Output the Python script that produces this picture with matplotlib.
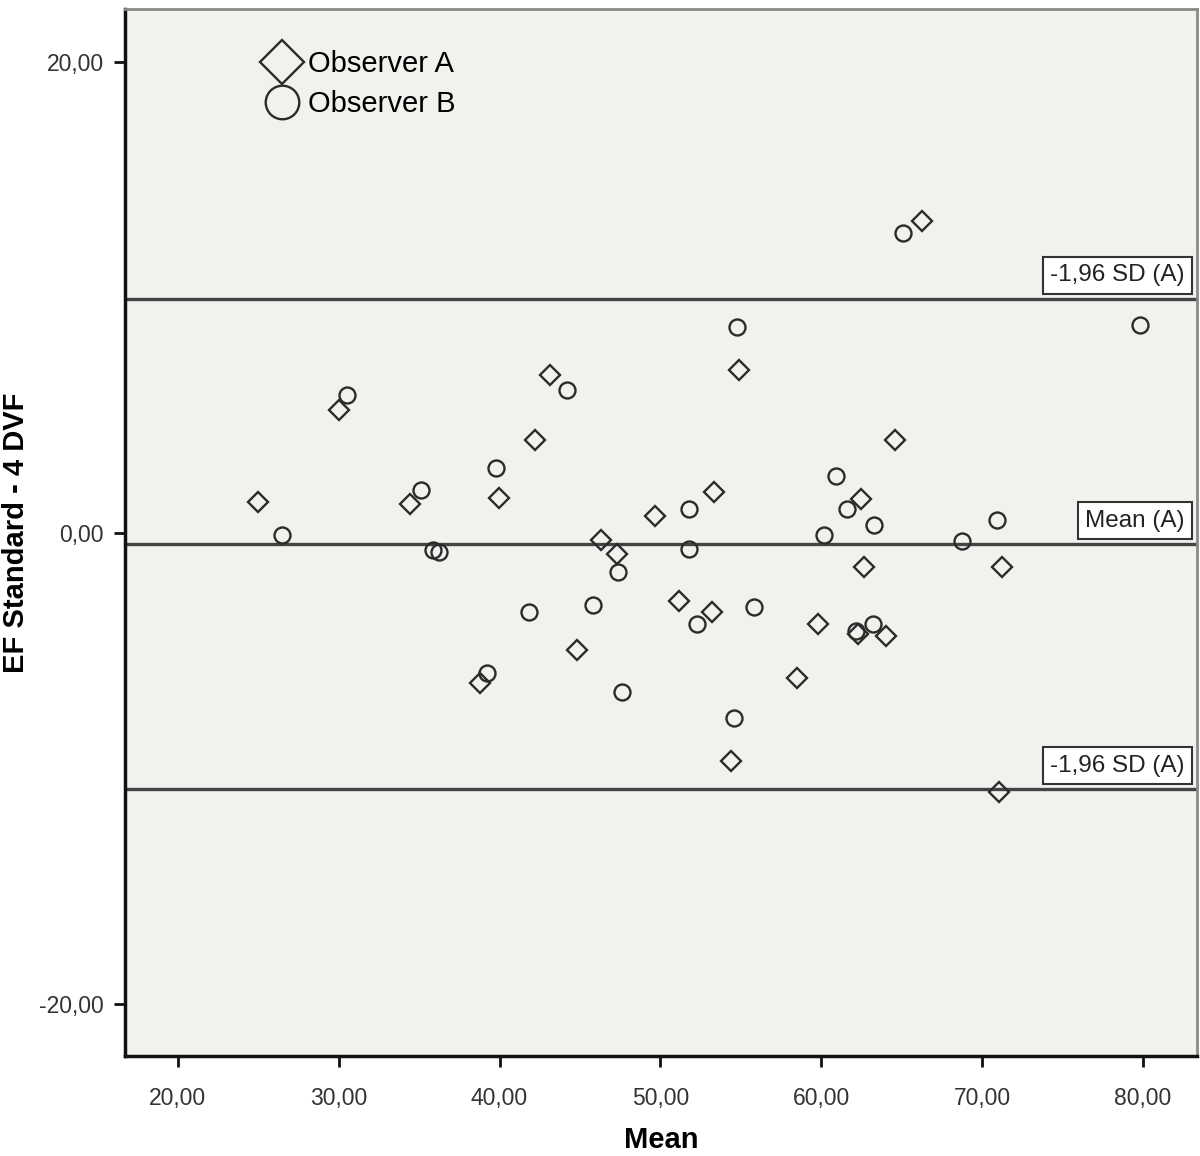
import numpy as np
import matplotlib.pyplot as plt
from matplotlib.ticker import FuncFormatter
import matplotlib.transforms as mtransforms

plt.rcParams['font.family'] = ['Liberation Sans', 'DejaVu Sans']

# Observer A (diamonds)
a_mean = [24.98, 30.01, 34.43, 38.78, 39.96, 42.20, 43.13, 44.81, 46.31, 47.30,
          49.66, 51.16, 53.21, 53.33, 54.39, 54.89, 58.49, 59.80, 62.48, 62.66,
          62.29, 64.03, 64.59, 66.27, 71.06, 71.24]
a_diff = [1.32, 5.22, 1.23, -6.37, 1.49, 3.95, 6.71, -4.97, -0.30, -0.89,
          0.72, -2.89, -3.35, 1.74, -9.68, 6.92, -6.16, -3.86, 1.44, -1.44,
          -4.29, -4.37, 3.95, 13.25, -11.00, -1.44]

# Observer B (circles)
b_mean = [26.47, 30.51, 35.11, 35.85, 36.25, 39.22, 39.78, 41.83, 44.19, 45.81,
          47.36, 47.61, 51.78, 51.78, 52.28, 54.58, 54.76, 55.82, 60.17, 60.92,
          61.60, 62.16, 63.22, 63.28, 65.09, 68.76, 70.93, 79.83]
b_diff = [-0.08, 5.86, 1.83, -0.72, -0.80, -5.94, 2.76, -3.35, 6.07, -3.06,
          -1.66, -6.75, 1.02, -0.68, -3.86, -7.86, 8.75, -3.14, -0.08, 2.42,
          1.02, -4.16, -3.86, 0.34, 12.74, -0.34, 0.55, 8.83]

# reference lines
mean_a = -0.47
upper_a = 9.94
lower_a = -10.87
line_levels = [upper_a, mean_a, lower_a]
line_labels = ["-1,96 SD (A)", "Mean (A)", "-1,96 SD (A)"]

x_ticks = [20, 30, 40, 50, 60, 70, 80]
y_ticks = [-20, 0, 20]


def comma_fmt(v, pos):
    return ("%.2f" % v).replace(".", ",")


def main():
    fig = plt.figure(figsize=(12, 11.56), dpi=100)
    ax = fig.add_axes([0.104, 0.0865, 0.8935, 0.9057])
    ax.set_facecolor('#f1f2ee')

    edge = '#2b2b2b'
    ax.plot(a_mean, a_diff, linestyle='none', marker='D', markersize=10.5,
            markerfacecolor='none', markeredgecolor=edge, markeredgewidth=1.7,
            label='Observer A', zorder=3)
    ax.plot(b_mean, b_diff, linestyle='none', marker='o', markersize=11.5,
            markerfacecolor='none', markeredgecolor=edge, markeredgewidth=1.7,
            label='Observer B', zorder=3)

    trans = mtransforms.blended_transform_factory(ax.transAxes, ax.transData)
    for lvl, lab in zip(line_levels, line_labels):
        ax.axhline(lvl, color='#444444', linewidth=2.4, zorder=2)
        ax.annotate(lab, xy=(1, lvl), xycoords=trans, xytext=(-9, 9),
                    textcoords='offset points', ha='right', va='bottom',
                    fontsize=17.5, color='#222222', zorder=4,
                    bbox=dict(boxstyle='square,pad=0.3', facecolor='white',
                              edgecolor='#333333', linewidth=1.5))

    ax.set_xlim(16.7, 83.37)
    ax.set_ylim(-22.2, 22.25)
    ax.set_xticks(x_ticks)
    ax.set_yticks(y_ticks)
    ax.xaxis.set_major_formatter(FuncFormatter(comma_fmt))
    ax.yaxis.set_major_formatter(FuncFormatter(comma_fmt))
    ax.tick_params(axis='both', direction='out', length=8, width=2,
                   labelsize=16.5, labelcolor='#333333', color='#111111')
    ax.tick_params(axis='x', pad=14)
    ax.tick_params(axis='y', pad=7)

    for s in ['left', 'bottom']:
        ax.spines[s].set_color('#111111')
        ax.spines[s].set_linewidth(2.5)
    for s in ['top', 'right']:
        ax.spines[s].set_color('#8a8a8a')
        ax.spines[s].set_linewidth(2)

    ax.set_xlabel("Mean", fontsize=21, fontweight='bold', labelpad=12)
    ax.set_ylabel("EF Standard - 4 DVF", fontsize=21, fontweight='bold')
    ax.yaxis.set_label_coords(-0.088, 0.5)

    ax.legend(loc='upper left', bbox_to_anchor=(0.125, 0.961), frameon=False,
              fontsize=21, markerscale=2.1, handlelength=1.6, handletextpad=0.1,
              labelspacing=0.42, borderpad=0, borderaxespad=0)

    plt.savefig("out.png", dpi=100)


if __name__ == "__main__":
    main()
